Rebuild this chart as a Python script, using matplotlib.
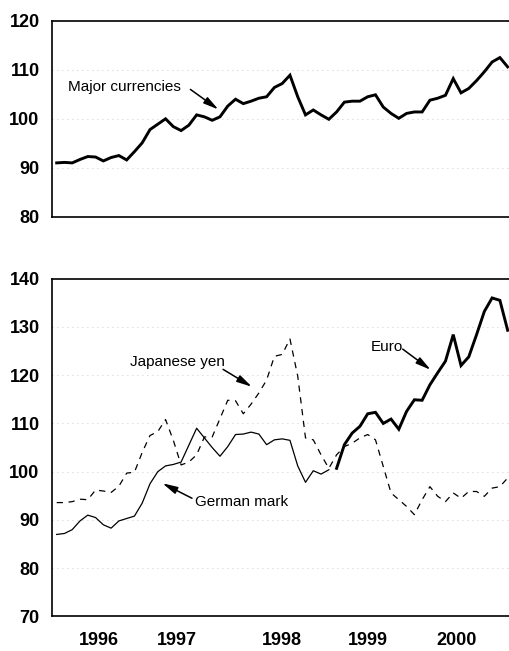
import matplotlib as mpl
import matplotlib.pyplot as plt
import numpy as np

mpl.rcParams["font.family"] = ["Liberation Sans", "DejaVu Sans"]

# monthly index values, month 0 = Jan 1996
major = [91.0, 91.1, 91.0, 91.7, 92.3, 92.2, 91.4, 92.1, 92.5, 91.6,
         93.3, 95.1, 97.8, 98.9, 100.0, 98.4, 97.6, 98.7, 100.8, 100.4,
         99.7, 100.4, 102.6, 104.0, 103.1, 103.6, 104.2, 104.5, 106.4, 107.2,
         108.9, 104.5, 100.8, 101.8, 100.8, 99.9, 101.4, 103.4, 103.6, 103.6,
         104.5, 104.9, 102.4, 101.1, 100.1, 101.1, 101.4, 101.4, 103.8, 104.2,
         104.8, 108.2, 105.3, 106.2, 107.8, 109.6, 111.6, 112.5, 110.6]

german_mark = [87.0, 87.2, 88.0, 89.8, 91.0, 90.5, 89.0, 88.3, 89.8, 90.3,
               90.8, 93.5, 97.5, 100.0, 101.2, 101.5, 102.0, 105.5, 109.0, 107.0,
               105.0, 103.2, 105.2, 107.7, 107.8, 108.2, 107.8, 105.6, 106.6, 106.8,
               106.5, 101.2, 97.8, 100.2, 99.5, 100.4]

japanese_yen = [93.6, 93.6, 93.8, 94.3, 94.2, 96.2, 96.0, 95.7, 97.0, 99.7,
                99.9, 104.0, 107.5, 108.3, 110.8, 106.5, 101.4, 102.0, 103.5, 107.2,
                107.2, 111.0, 114.8, 114.7, 112.0, 114.0, 116.3, 119.0, 123.9, 124.3,
                127.5, 119.8, 107.0, 106.6, 103.5, 100.7, 103.5, 105.2, 105.9, 107.0,
                107.7, 106.6, 101.1, 95.6, 94.2, 92.8, 91.1, 94.2, 96.9, 94.9,
                93.8, 95.6, 94.5, 95.9, 95.9, 94.9, 96.6, 96.9, 98.7]

# euro starts Jan 1999 (month 36)
euro = [100.7, 105.6, 108.0, 109.4, 112.0, 112.3, 110.0, 110.9, 108.8, 112.5,
        114.9, 114.8, 118.0, 120.5, 122.9, 128.4, 122.0, 123.8, 128.4, 133.2,
        136.0, 135.5, 129.3]
EURO_START = 36

year_labels = ["1996", "1997", "1998", "1999", "2000"]

# label positions (months) as they sit in the original
YEAR_TICKS = [5.4, 15.4, 28.9, 40.0, 51.4]

TICK_FONT = dict(fontsize=13, fontweight="bold")
NOTE_SIZE = 11
THICK = 2.1
THIN = 0.9
XLIM = (-0.6, 58.3)


def style_axes(ax, ylim, yticks):
    ax.set_xlim(XLIM)
    ax.set_ylim(ylim)
    ax.set_yticks(yticks)
    ax.set_yticklabels([str(t) for t in yticks], **TICK_FONT)
    ax.tick_params(axis="both", length=0)
    ax.tick_params(axis="y", pad=9)
    ax.spines["right"].set_visible(False)
    for side in ["left", "top", "bottom"]:
        ax.spines[side].set_linewidth(1.2)
    ax.yaxis.grid(True, color="#b8b8b8", linestyle=(0, (1, 5)), linewidth=0.6)
    ax.set_axisbelow(True)


def arrow(ax, tail, head):
    ax.annotate("", xy=head, xytext=tail,
                arrowprops=dict(arrowstyle="-|>,head_length=0.9,head_width=0.22",
                                color="black", lw=1.1, shrinkA=0, shrinkB=0))


fig = plt.figure(figsize=(5.1, 6.51), dpi=100)
ax1 = fig.add_axes([0.102, 0.667, 0.898, 0.301])
ax2 = fig.add_axes([0.102, 0.053, 0.898, 0.519])

# top panel
ax1.plot(np.arange(len(major)), major, color="black", lw=THICK, solid_joinstyle="miter")
style_axes(ax1, (80, 120), [80, 90, 100, 110, 120])
ax1.set_xticks([])
ax1.text(1.45, 106.5, "Major currencies", fontsize=NOTE_SIZE, ha="left", va="center")
arrow(ax1, (17.2, 106.0), (20.8, 101.9))

# bottom panel
ax2.plot(np.arange(len(german_mark)), german_mark, color="black", lw=THIN)
ax2.plot(np.arange(len(japanese_yen)), japanese_yen, color="black", lw=THIN,
         dashes=(5, 4.5))
ax2.plot(np.arange(EURO_START, EURO_START + len(euro)), euro, color="black",
         lw=THICK, solid_joinstyle="miter")
style_axes(ax2, (70, 140), [70, 80, 90, 100, 110, 120, 130, 140])
ax2.set_xticks(YEAR_TICKS)
ax2.set_xticklabels(year_labels, **TICK_FONT)
ax2.tick_params(axis="x", pad=11)

ax2.text(9.4, 122.8, "Japanese yen", fontsize=NOTE_SIZE, ha="left", va="center")
arrow(ax2, (21.4, 121.2), (25.1, 117.6))
ax2.text(40.4, 125.9, "Euro", fontsize=NOTE_SIZE, ha="left", va="center")
arrow(ax2, (44.5, 125.4), (48.1, 121.1))
ax2.text(17.8, 93.7, "German mark", fontsize=NOTE_SIZE, ha="left", va="center")
arrow(ax2, (17.4, 94.5), (13.6, 97.6))

fig.savefig("out.png", dpi=100, facecolor="white")
